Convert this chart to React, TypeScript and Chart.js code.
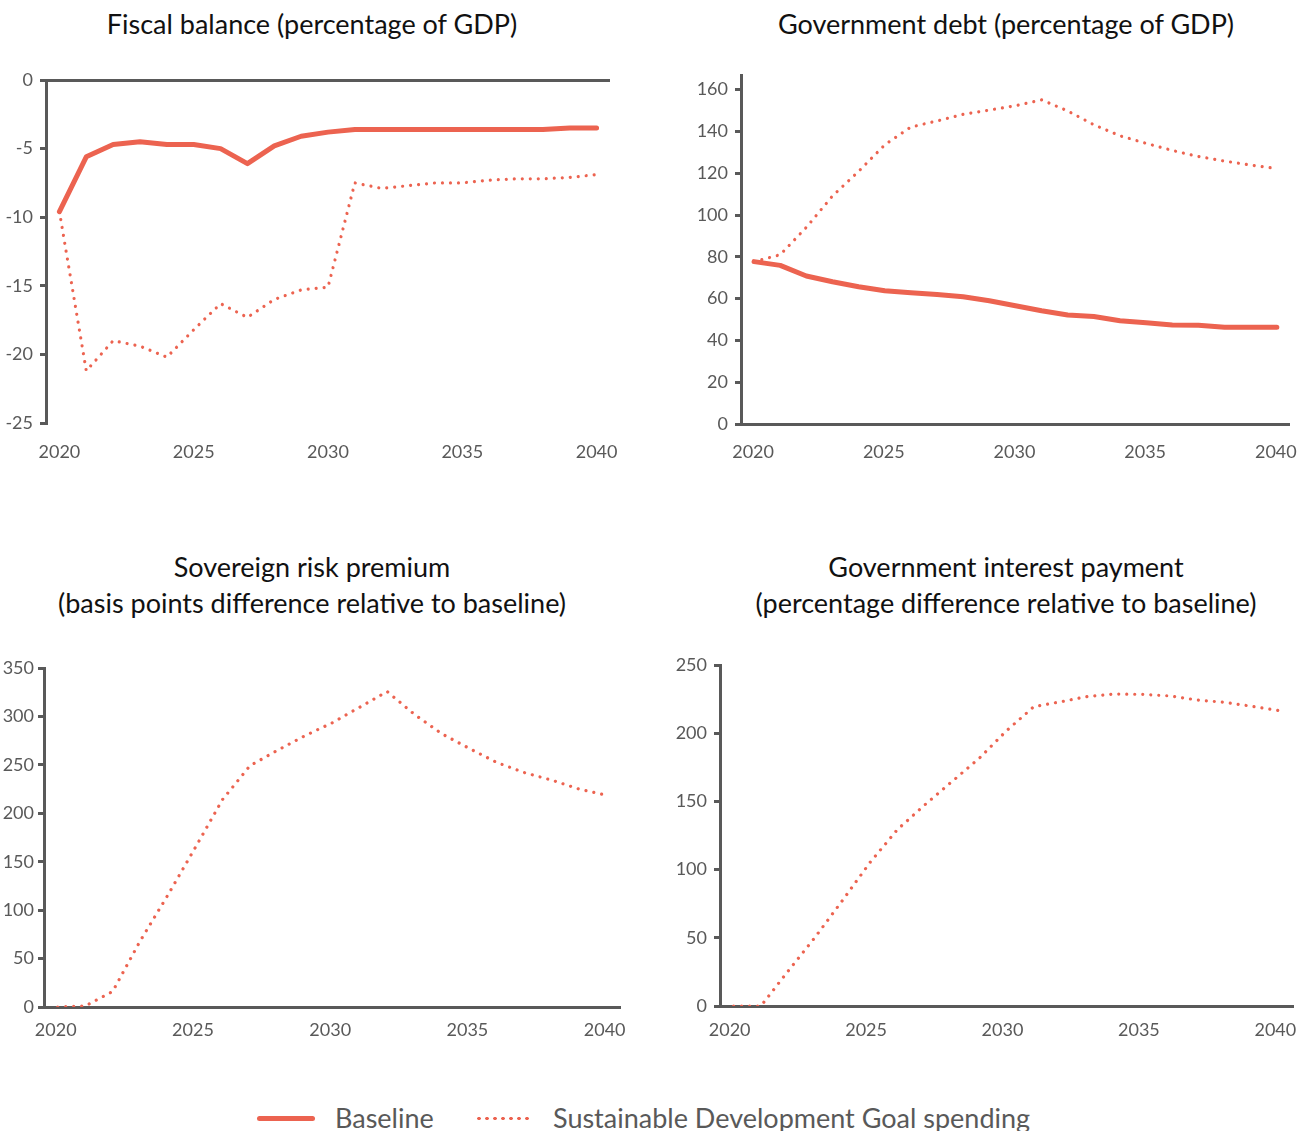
import React, { useEffect, useRef } from 'react';
import { Chart, registerables } from 'chart.js';

Chart.register(...registerables);

// ---------- data ----------
const YEARS = [
  '2020', '2021', '2022', '2023', '2024', '2025', '2026', '2027', '2028', '2029', '2030',
  '2031', '2032', '2033', '2034', '2035', '2036', '2037', '2038', '2039', '2040',
];

const FISCAL_BASELINE = [
  -9.6, -5.6, -4.7, -4.5, -4.7, -4.7, -5.0, -6.1, -4.8, -4.1, -3.8,
  -3.6, -3.6, -3.6, -3.6, -3.6, -3.6, -3.6, -3.6, -3.5, -3.5,
];
const FISCAL_SDG = [
  -9.6, -21.2, -19.0, -19.4, -20.2, -18.2, -16.3, -17.3, -16.0, -15.3, -15.1,
  -7.5, -7.9, -7.7, -7.5, -7.5, -7.3, -7.2, -7.2, -7.1, -6.9,
];

const DEBT_BASELINE = [
  77.7, 75.9, 70.8, 68.1, 65.7, 63.8, 62.8, 62.0, 60.9, 59.0, 56.6,
  54.2, 52.2, 51.4, 49.4, 48.5, 47.4, 47.2, 46.3, 46.3, 46.3,
];
const DEBT_SDG = [
  77.7, 81.0, 94.1, 109.1, 120.9, 133.6, 142.1, 145.0, 148.2, 150.2, 152.3,
  155.1, 149.8, 143.2, 137.9, 134.3, 130.9, 128.0, 125.8, 123.9, 122.2,
];

const RISK_SDG = [
  0, 1, 16, 68, 115, 164, 214, 249, 265, 280, 293.4,
  309.5, 325.7, 302, 282, 266.9, 252.4, 242, 234.2, 224.9, 218.7,
];

const INTEREST_SDG = [
  0, 0, 25.7, 50.8, 77.7, 105.3, 129.3, 147.4, 164.5, 181.6, 201.8,
  219.4, 223.1, 227, 228.7, 228.5, 227.3, 224.3, 222.6, 219.7, 216.5,
];

const SERIES_NAMES = ['Baseline', 'Sustainable Development Goal spending'];

const FISCAL_AXIS = [-25, 0, 5];
const DEBT_AXIS = [0, 167, 20];
const RISK_AXIS = [0, 350, 50];
const INTEREST_AXIS = [0, 250, 50];

// ---------- styles ----------
const RED = '#EC6350';
const AXIS = '#595959';
const TEXT = '#595959';
const FONT = 'Lato, "Open Sans", sans-serif';

type Spec = {
  left: number; top: number; width: number; height: number;
  yWidth: number; padR: number; xHeight: number; xPad: number; yPad: number;
  labelOffset: number;
  axis: number[]; zeroLine: boolean; xBorder: boolean;
  baseline?: number[]; sdg: number[];
};

function ChartPanel({ spec }: { spec: Spec }) {
  const ref = useRef<HTMLCanvasElement | null>(null);
  useEffect(() => {
    if (!ref.current) return;
    const datasets: any[] = [];
    if (spec.baseline) {
      datasets.push({
        label: SERIES_NAMES[0],
        data: spec.baseline,
        borderColor: RED,
        backgroundColor: RED,
        borderWidth: 5,
        pointRadius: 0,
        borderCapStyle: 'round',
        borderJoinStyle: 'round',
        tension: 0,
      });
    }
    datasets.push({
      label: SERIES_NAMES[1],
      data: spec.sdg,
      borderColor: RED,
      backgroundColor: RED,
      borderWidth: 3.2,
      borderDash: [0.001, 8],
      pointRadius: 0,
      borderCapStyle: 'round',
      borderJoinStyle: 'round',
      tension: 0,
    });
    const chart = new Chart(ref.current, {
      type: 'line',
      data: { labels: YEARS, datasets },
      options: {
        animation: false,
        responsive: false,
        maintainAspectRatio: false,
        devicePixelRatio: 1,
        layout: { padding: { left: 0, right: spec.padR, top: 20, bottom: 0 } },
        plugins: {
          legend: { display: false },
          tooltip: { enabled: false },
          title: { display: false },
        },
        scales: {
          x: {
            type: 'category',
            offset: true,
            grid: { display: false, drawTicks: false },
            border: { display: spec.xBorder, color: AXIS, width: 3 },
            ticks: {
              autoSkip: false,
              maxRotation: 0,
              minRotation: 0,
              padding: spec.xPad,
              labelOffset: spec.labelOffset,
              color: TEXT,
              font: { family: FONT, size: 18 },
              callback: (_v: any, i: number) => (i % 5 === 0 ? YEARS[i] : ''),
            },
            afterFit: (s: any) => { s.height = spec.xHeight; },
          },
          y: {
            min: spec.axis[0],
            max: spec.axis[1],
            ticks: {
              stepSize: spec.axis[2],
              includeBounds: false,
              padding: spec.yPad,
              color: TEXT,
              font: { family: FONT, size: 18 },
            },
            grid: {
              drawOnChartArea: spec.zeroLine,
              color: (ctx: any) => (ctx.tick && ctx.tick.value === 0 ? AXIS : 'rgba(0,0,0,0)'),
              tickColor: AXIS,
              tickLength: 6,
              lineWidth: 3,
            },
            border: { display: true, color: AXIS, width: 3 },
            afterFit: (s: any) => { s.width = spec.yWidth; },
          },
        },
      } as any,
    });
    return () => chart.destroy();
  }, [spec]);
  return (
    <canvas
      ref={ref}
      width={spec.width}
      height={spec.height}
      style={{ position: 'absolute', left: spec.left, top: spec.top, width: spec.width, height: spec.height }}
    />
  );
}

const PANELS: Spec[] = [
  { left: 0, top: 60, width: 640, height: 420, yWidth: 46, padR: 30, xHeight: 57, xPad: 18, yPad: 7, labelOffset: 0,
    axis: FISCAL_AXIS, zeroLine: true, xBorder: false, baseline: FISCAL_BASELINE, sdg: FISCAL_SDG },
  { left: 690, top: 55, width: 625, height: 420, yWidth: 51, padR: 12, xHeight: 51, xPad: 17, yPad: 7, labelOffset: -1,
    axis: DEBT_AXIS, zeroLine: false, xBorder: true, baseline: DEBT_BASELINE, sdg: DEBT_SDG },
  { left: 0, top: 648, width: 640, height: 420, yWidth: 44, padR: 19, xHeight: 61, xPad: 12, yPad: 4, labelOffset: -2,
    axis: RISK_AXIS, zeroLine: false, xBorder: true, sdg: RISK_SDG },
  { left: 660, top: 645, width: 655, height: 420, yWidth: 60, padR: 22, xHeight: 59, xPad: 13, yPad: 7, labelOffset: -4,
    axis: INTEREST_AXIS, zeroLine: false, xBorder: true, sdg: INTEREST_SDG },
];

const TITLES: { cx: number; cy: number; text: string }[] = [
  { cx: 312, cy: 24, text: 'Fiscal balance (percentage of GDP)' },
  { cx: 1006, cy: 24, text: 'Government debt (percentage of GDP)' },
  { cx: 312, cy: 567, text: 'Sovereign risk premium' },
  { cx: 312, cy: 603, text: '(basis points difference relative to baseline)' },
  { cx: 1006, cy: 567, text: 'Government interest payment' },
  { cx: 1006, cy: 603, text: '(percentage difference relative to baseline)' },
];

export default function App() {
  return (
    <div style={{ position: 'absolute', left: 0, top: 0, width: 1315, height: 1131, overflow: 'hidden', background: '#fff' }}>
      {TITLES.map((t, i) => (
        <div
          key={i}
          style={{
            position: 'absolute', left: t.cx - 400, width: 800, top: t.cy - 18, height: 36,
            lineHeight: '36px', textAlign: 'center', fontFamily: FONT, fontSize: 27, color: '#111',
            whiteSpace: 'nowrap',
          }}
        >
          {t.text}
        </div>
      ))}
      {PANELS.map((p, i) => <ChartPanel key={i} spec={p} />)}
      {/* legend */}
      <div style={{ position: 'absolute', left: 257, top: 1116, width: 58, height: 5, borderRadius: 3, background: RED }} />
      <div style={{ position: 'absolute', left: 335, top: 1103, height: 30, lineHeight: '30px', fontFamily: FONT, fontSize: 27, color: TEXT, whiteSpace: 'nowrap' }}>
        {SERIES_NAMES[0]}
      </div>
      <div
        style={{
          position: 'absolute', left: 475, top: 1116, width: 58, height: 5,
          backgroundImage: `radial-gradient(circle, ${RED} 1.5px, rgba(0,0,0,0) 2px)`,
          backgroundSize: '8px 5px', backgroundRepeat: 'repeat-x',
        }}
      />
      <div style={{ position: 'absolute', left: 553, top: 1103, height: 30, lineHeight: '30px', fontFamily: FONT, fontSize: 27, color: TEXT, whiteSpace: 'nowrap' }}>
        {SERIES_NAMES[1]}
      </div>
    </div>
  );
}
